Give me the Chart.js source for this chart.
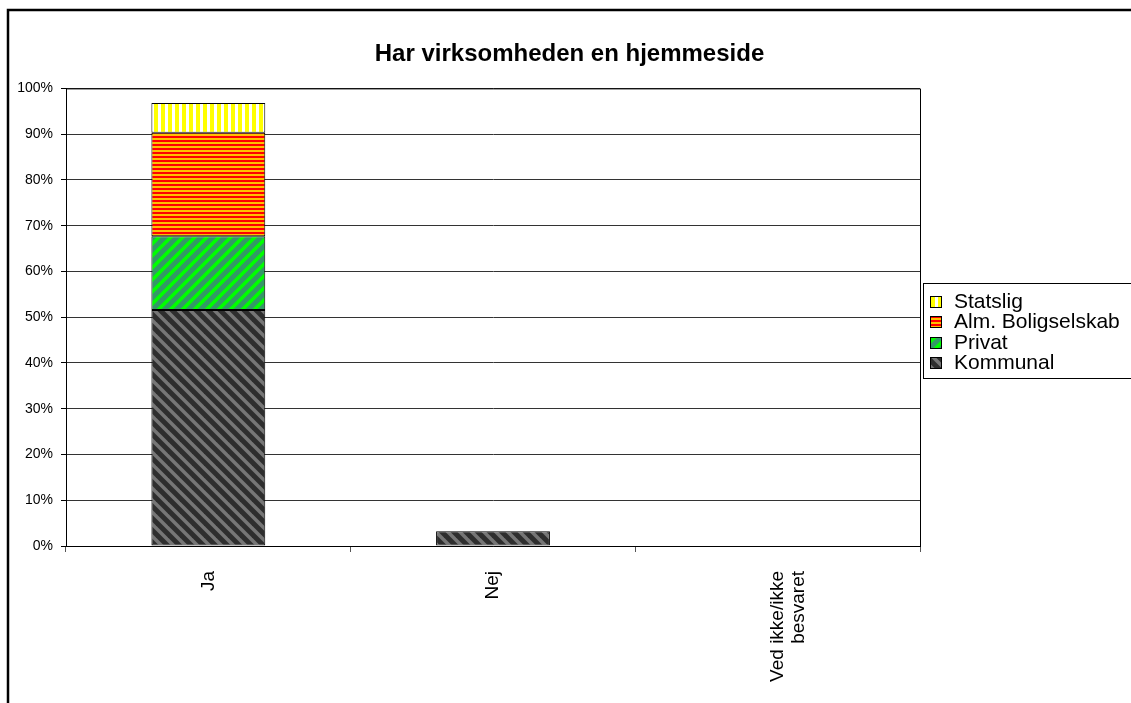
<!DOCTYPE html>
<html lang="da">
<head>
  <meta charset="UTF-8" />
  <title>Har virksomheden en hjemmeside</title>
  <script src="https://cdn.jsdelivr.net/npm/chart.js"></script>
  <style>
    html, body { margin: 0; padding: 0; background: #fff; }
    #wrap { position: relative; width: 1131px; height: 703px; }
  </style>
</head>
<body>
<div id="wrap"><canvas id="chart"></canvas></div>
<script>
  // data (percent of respondents)
  const categories = ['Ja', 'Nej', ['Ved ikke/ikke', 'besvaret']];
  const kommunal = [51.6, 3.2, 0];
  const privat = [16.1, 0, 0];
  const almBolig = [22.6, 0, 0];
  const statslig = [6.5, 0, 0];
  const seriesNames = ['Kommunal', 'Privat', 'Alm. Boligselskab', 'Statslig'];
  const yMax = 100, yStep = 10;

  const FONT = '"Liberation Sans", Arial, sans-serif';
  const canvas = document.getElementById('chart');
  const mainCtx = canvas.getContext('2d');

  // hatch fills like the old Excel patterns
  function tile(w, h, draw) {
    const c = document.createElement('canvas');
    c.width = w; c.height = h;
    draw(c.getContext('2d'), w, h);
    return mainCtx.createPattern(c, 'repeat');
  }
  function diagonal(base, stripe, width, down) {
    return tile(12, 12, (g, w, h) => {
      g.fillStyle = base;
      g.fillRect(0, 0, w, h);
      g.strokeStyle = stripe;
      g.lineWidth = width;
      for (const o of [-w, 0, w]) {
        g.beginPath();
        if (down) { g.moveTo(o - 3, -3); g.lineTo(o + w + 3, h + 3); }
        else { g.moveTo(o - 3, h + 3); g.lineTo(o + w + 3, -3); }
        g.stroke();
      }
    });
  }
  const patKommunal = diagonal('#2e2e2e', '#767676', 3.5, true);
  const patPrivat = diagonal('#339966', '#00ff00', 3.5, false);
  const patAlm = tile(4, 4, (g) => {
    g.fillStyle = '#ffbf00'; g.fillRect(0, 0, 4, 4);
    g.fillStyle = '#ff0000'; g.fillRect(0, 0, 4, 2);
  });
  const patStatslig = tile(7, 7, (g) => {
    g.fillStyle = '#ffffff'; g.fillRect(0, 0, 7, 7);
    g.fillStyle = '#ffff00'; g.fillRect(0, 0, 4, 7);
  });

  const frame = {
    id: 'frame',
    beforeDraw(chart) {
      const ctx = chart.ctx;
      ctx.save();
      ctx.fillStyle = '#fff';
      ctx.fillRect(0, 0, chart.width, chart.height);
      ctx.strokeStyle = '#000';
      ctx.lineWidth = 2.5;
      ctx.beginPath();
      ctx.moveTo(8, chart.height);
      ctx.lineTo(8, 10);
      ctx.lineTo(chart.width, 10);
      ctx.stroke();
      ctx.restore();
    },
    afterDatasetsDraw(chart) {
      const a = chart.chartArea, ctx = chart.ctx;
      ctx.save();
      ctx.strokeStyle = '#000';
      ctx.lineWidth = 1;
      ctx.beginPath();
      ctx.moveTo(a.left, a.top + 0.5);
      ctx.lineTo(a.right + 0.5, a.top + 0.5);
      ctx.lineTo(a.right + 0.5, a.bottom);
      ctx.stroke();
      ctx.restore();
    }
  };

  const legendBox = {
    id: 'legendBox',
    afterDraw(chart) {
      const ctx = chart.ctx;
      const x0 = chart.chartArea.right + 3, y0 = 283;
      ctx.save();
      ctx.strokeStyle = '#000';
      ctx.lineWidth = 1;
      ctx.strokeRect(x0 + 0.5, y0 + 0.5, 260, 95);
      ctx.font = '21px ' + FONT;
      ctx.textBaseline = 'middle';
      chart.data.datasets.slice().reverse().forEach((ds, i) => {
        const cy = Math.round(y0 + 18 + i * 20.3);
        ctx.fillStyle = ds.backgroundColor;
        ctx.fillRect(x0 + 7, cy - 5, 12, 12);
        ctx.strokeRect(x0 + 7.5, cy - 4.5, 11, 11);
        ctx.fillStyle = '#000';
        ctx.fillText(ds.label, x0 + 31, cy + 1);
      });
      ctx.restore();
    }
  };

  const fills = [patKommunal, patPrivat, patAlm, patStatslig];
  const values = [kommunal, privat, almBolig, statslig];

  new Chart(canvas, {
    type: 'bar',
    data: {
      labels: categories,
      datasets: values.map((v, i) => ({
        label: seriesNames[i],
        data: v,
        backgroundColor: fills[i],
        borderColor: '#000',
        borderWidth: c => (c.raw ? 1 : 0),
        borderSkipped: false,
        barPercentage: 0.4,
        categoryPercentage: 1
      }))
    },
    options: {
      responsive: true,
      maintainAspectRatio: false,
      animation: false,
      layout: { padding: { top: 41, left: 8, right: 0, bottom: 0 } },
      plugins: {
        legend: { display: false },
        tooltip: { enabled: false },
        title: {
          display: true,
          text: 'Har virksomheden en hjemmeside',
          color: '#000',
          font: { family: FONT, size: 24, weight: 'bold', lineHeight: 1.1 },
          padding: { top: 0, bottom: 21 }
        }
      },
      scales: {
        x: {
          stacked: true,
          grid: { offset: true, drawOnChartArea: false, tickLength: 6, tickColor: '#555' },
          border: { color: '#000' },
          ticks: {
            color: '#000',
            font: { family: FONT, size: 19, lineHeight: 1.1 },
            maxRotation: 90, minRotation: 90,
            autoSkip: false,
            padding: 19
          },
          afterFit: s => { s.height = 157; }
        },
        y: {
          stacked: true,
          min: 0, max: yMax,
          grid: { color: '#333', tickColor: '#000', tickLength: 5 },
          border: { color: '#000' },
          ticks: {
            stepSize: yStep,
            color: '#000',
            padding: 8,
            font: { family: FONT, size: 14 },
            callback: v => v + '%'
          },
          afterFit: s => { s.width = 58; }
        },
        side: {
          position: 'right',
          display: true,
          grid: { display: false },
          border: { display: false },
          ticks: { display: false },
          afterFit: s => { s.width = 211; }
        }
      }
    },
    plugins: [frame, legendBox]
  });
</script>
</body>
</html>
